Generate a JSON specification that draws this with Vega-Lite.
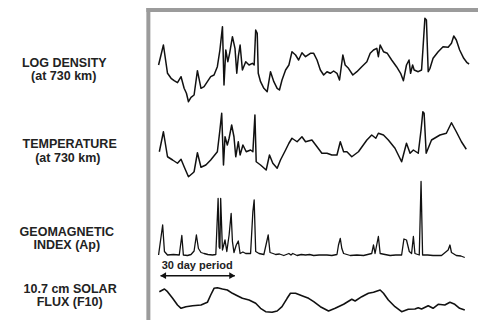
{
  "$schema": "https://vega.github.io/schema/vega-lite/v6.json",
  "width": 480,
  "height": 323,
  "autosize": {"type": "fit", "contains": "padding"},
  "padding": 0,
  "background": "white",
  "config": {"view": {"stroke": null}},
  "datasets": {
    "density": [
      {"day":-0.3,"log_density":-14.65},{"day":1.6,"log_density":-14.45},{"day":3.2,"log_density":-14.733},{"day":4.6,"log_density":-14.783},{"day":5.8,"log_density":-14.807},{"day":7.1,"log_density":-14.827},{"day":8.5,"log_density":-14.767},{"day":9.7,"log_density":-14.883},{"day":10.6,"log_density":-14.933},{"day":11.4,"log_density":-15.017},{"day":12.4,"log_density":-14.973},{"day":13.6,"log_density":-14.95},{"day":14.9,"log_density":-14.707},{"day":16.3,"log_density":-14.883},{"day":17.5,"log_density":-14.867},{"day":18.8,"log_density":-14.817},{"day":20.1,"log_density":-14.767},{"day":21.4,"log_density":-14.75},{"day":22.7,"log_density":-14.667},{"day":23.7,"log_density":-14.5},{"day":24.7,"log_density":-14.267},{"day":25.3,"log_density":-14.85},{"day":26.0,"log_density":-14.5},{"day":26.8,"log_density":-14.617},{"day":27.5,"log_density":-14.533},{"day":28.6,"log_density":-14.367},{"day":29.6,"log_density":-14.483},{"day":30.3,"log_density":-14.733},{"day":30.9,"log_density":-14.567},{"day":31.6,"log_density":-14.45},{"day":32.5,"log_density":-14.7},{"day":33.8,"log_density":-14.617},{"day":35.1,"log_density":-14.65},{"day":36.4,"log_density":-14.633},{"day":37.1,"log_density":-14.65},{"day":37.7,"log_density":-14.3},{"day":38.3,"log_density":-14.333},{"day":38.7,"log_density":-14.733},{"day":39.6,"log_density":-14.817},{"day":40.9,"log_density":-14.883},{"day":42.2,"log_density":-14.917},{"day":43.5,"log_density":-14.717},{"day":44.8,"log_density":-14.817},{"day":46.1,"log_density":-14.883},{"day":47.0,"log_density":-14.9},{"day":48.0,"log_density":-14.8},{"day":49.4,"log_density":-14.7},{"day":50.7,"log_density":-14.65},{"day":51.9,"log_density":-14.517},{"day":53.3,"log_density":-14.55},{"day":54.5,"log_density":-14.6},{"day":55.8,"log_density":-14.527},{"day":57.2,"log_density":-14.567},{"day":59.1,"log_density":-14.533},{"day":60.4,"log_density":-14.533},{"day":61.7,"log_density":-14.6},{"day":63.0,"log_density":-14.7},{"day":64.3,"log_density":-14.75},{"day":65.6,"log_density":-14.717},{"day":66.9,"log_density":-14.733},{"day":68.2,"log_density":-14.71},{"day":69.5,"log_density":-14.733},{"day":70.5,"log_density":-14.8},{"day":71.8,"log_density":-14.55},{"day":72.7,"log_density":-14.65},{"day":74.0,"log_density":-14.683},{"day":75.7,"log_density":-14.75},{"day":77.3,"log_density":-14.717},{"day":79.2,"log_density":-14.667},{"day":81.2,"log_density":-14.617},{"day":82.5,"log_density":-14.533},{"day":83.8,"log_density":-14.5},{"day":85.1,"log_density":-14.483},{"day":85.7,"log_density":-14.567},{"day":86.4,"log_density":-14.45},{"day":87.7,"log_density":-14.517},{"day":89.2,"log_density":-14.533},{"day":90.9,"log_density":-14.6},{"day":92.8,"log_density":-14.667},{"day":94.4,"log_density":-14.733},{"day":95.5,"log_density":-14.807},{"day":96.7,"log_density":-14.65},{"day":97.7,"log_density":-14.6},{"day":98.3,"log_density":-14.733},{"day":99.1,"log_density":-14.65},{"day":99.7,"log_density":-14.7},{"day":101.3,"log_density":-14.717},{"day":102.6,"log_density":-14.7},{"day":103.2,"log_density":-14.467},{"day":103.9,"log_density":-14.183},{"day":104.5,"log_density":-14.2},{"day":105.2,"log_density":-14.717},{"day":105.9,"log_density":-14.683},{"day":107.1,"log_density":-14.583},{"day":109.1,"log_density":-14.517},{"day":111.0,"log_density":-14.467},{"day":113.0,"log_density":-14.473},{"day":114.3,"log_density":-14.433},{"day":115.2,"log_density":-14.36},{"day":116.2,"log_density":-14.4},{"day":117.5,"log_density":-14.5},{"day":119.1,"log_density":-14.583},{"day":120.4,"log_density":-14.627},{"day":121.2,"log_density":-14.64}
    ],
    "temperature": [
      {"day":0.0,"temperature_K":1033},{"day":1.6,"temperature_K":1113},{"day":3.2,"temperature_K":1013},{"day":5.2,"temperature_K":1000},{"day":7.1,"temperature_K":987},{"day":8.5,"temperature_K":1003},{"day":9.7,"temperature_K":973},{"day":11.4,"temperature_K":933},{"day":13.0,"temperature_K":947},{"day":13.6,"temperature_K":953},{"day":14.9,"temperature_K":1029},{"day":16.3,"temperature_K":971},{"day":18.2,"temperature_K":980},{"day":20.1,"temperature_K":1000},{"day":22.7,"temperature_K":1033},{"day":23.7,"temperature_K":1120},{"day":24.4,"temperature_K":1187},{"day":25.1,"temperature_K":980},{"day":25.7,"temperature_K":1093},{"day":26.6,"temperature_K":1060},{"day":27.3,"temperature_K":1087},{"day":28.3,"temperature_K":1140},{"day":29.2,"temperature_K":1093},{"day":29.9,"temperature_K":1013},{"day":30.9,"temperature_K":1073},{"day":31.6,"temperature_K":1020},{"day":32.7,"temperature_K":1060},{"day":34.0,"temperature_K":1033},{"day":35.7,"temperature_K":1040},{"day":36.6,"temperature_K":1033},{"day":37.4,"temperature_K":1180},{"day":37.9,"temperature_K":993},{"day":39.6,"temperature_K":980},{"day":41.8,"temperature_K":960},{"day":43.1,"temperature_K":1020},{"day":44.4,"temperature_K":987},{"day":46.1,"temperature_K":967},{"day":47.4,"temperature_K":1000},{"day":49.4,"temperature_K":1040},{"day":50.7,"temperature_K":1067},{"day":51.9,"temperature_K":1087},{"day":53.9,"temperature_K":1073},{"day":55.8,"temperature_K":1093},{"day":57.2,"temperature_K":1073},{"day":59.7,"temperature_K":1080},{"day":61.7,"temperature_K":1053},{"day":63.6,"temperature_K":1027},{"day":65.6,"temperature_K":1027},{"day":67.5,"temperature_K":1020},{"day":69.5,"temperature_K":1020},{"day":70.8,"temperature_K":1073},{"day":72.1,"temperature_K":1033},{"day":73.4,"temperature_K":1033},{"day":75.3,"temperature_K":1013},{"day":77.9,"temperature_K":1033},{"day":81.2,"temperature_K":1080},{"day":83.1,"temperature_K":1100},{"day":84.7,"temperature_K":1087},{"day":85.7,"temperature_K":1107},{"day":87.7,"temperature_K":1100},{"day":89.6,"temperature_K":1080},{"day":92.2,"temperature_K":1047},{"day":94.8,"temperature_K":993},{"day":96.7,"temperature_K":1067},{"day":98.1,"temperature_K":1027},{"day":99.4,"temperature_K":1040},{"day":101.3,"temperature_K":1027},{"day":102.4,"temperature_K":1120},{"day":103.1,"temperature_K":1193},{"day":103.6,"temperature_K":1187},{"day":104.4,"temperature_K":1027},{"day":106.5,"temperature_K":1080},{"day":109.8,"temperature_K":1100},{"day":112.3,"temperature_K":1107},{"day":114.3,"temperature_K":1149},{"day":116.2,"temperature_K":1113},{"day":118.2,"temperature_K":1073},{"day":120.1,"temperature_K":1043}
    ],
    "ap": [
      {"day":-0.3,"Ap":6},{"day":1.3,"Ap":66},{"day":2.0,"Ap":13},{"day":3.2,"Ap":6},{"day":5.5,"Ap":7},{"day":7.8,"Ap":6},{"day":8.8,"Ap":45},{"day":9.4,"Ap":6},{"day":11.0,"Ap":5},{"day":12.4,"Ap":7},{"day":13.6,"Ap":14},{"day":14.5,"Ap":46},{"day":15.3,"Ap":19},{"day":16.3,"Ap":11},{"day":17.5,"Ap":9},{"day":19.0,"Ap":7},{"day":20.8,"Ap":6},{"day":22.1,"Ap":7},{"day":23.0,"Ap":119},{"day":23.4,"Ap":22},{"day":23.7,"Ap":19},{"day":24.0,"Ap":119},{"day":24.7,"Ap":16},{"day":25.7,"Ap":36},{"day":26.4,"Ap":13},{"day":27.3,"Ap":46},{"day":28.1,"Ap":89},{"day":28.6,"Ap":33},{"day":29.2,"Ap":11},{"day":30.1,"Ap":26},{"day":30.9,"Ap":34},{"day":31.6,"Ap":9},{"day":32.7,"Ap":12},{"day":33.8,"Ap":9},{"day":35.7,"Ap":9},{"day":36.6,"Ap":93},{"day":37.1,"Ap":116},{"day":37.7,"Ap":13},{"day":39.0,"Ap":9},{"day":40.9,"Ap":7},{"day":42.6,"Ap":46},{"day":43.3,"Ap":11},{"day":44.5,"Ap":9},{"day":45.5,"Ap":7},{"day":47.0,"Ap":8},{"day":48.7,"Ap":5},{"day":50.7,"Ap":9},{"day":51.5,"Ap":6},{"day":52.2,"Ap":9},{"day":53.9,"Ap":5},{"day":55.5,"Ap":7},{"day":57.2,"Ap":6},{"day":58.8,"Ap":7},{"day":60.4,"Ap":5},{"day":62.5,"Ap":6},{"day":65.6,"Ap":6},{"day":67.5,"Ap":5},{"day":69.5,"Ap":7},{"day":70.1,"Ap":26},{"day":70.8,"Ap":39},{"day":71.4,"Ap":19},{"day":72.1,"Ap":9},{"day":74.7,"Ap":5},{"day":77.3,"Ap":6},{"day":79.9,"Ap":5},{"day":83.1,"Ap":9},{"day":83.8,"Ap":26},{"day":84.4,"Ap":9},{"day":85.7,"Ap":43},{"day":86.4,"Ap":9},{"day":88.3,"Ap":7},{"day":90.3,"Ap":5},{"day":92.5,"Ap":6},{"day":94.8,"Ap":6},{"day":95.7,"Ap":38},{"day":96.7,"Ap":36},{"day":97.8,"Ap":13},{"day":98.7,"Ap":9},{"day":99.4,"Ap":43},{"day":100.0,"Ap":9},{"day":101.7,"Ap":6},{"day":102.4,"Ap":153},{"day":103.0,"Ap":6},{"day":105.0,"Ap":6},{"day":107.1,"Ap":5},{"day":110.4,"Ap":5},{"day":113.0,"Ap":16},{"day":113.7,"Ap":26},{"day":114.3,"Ap":11},{"day":116.2,"Ap":5},{"day":118.0,"Ap":4},{"day":119.5,"Ap":1}
    ],
    "f10": [
      {"day":0.0,"F10":108.3},{"day":2.0,"F10":111},{"day":3.2,"F10":108.3},{"day":5.2,"F10":101.7},{"day":7.1,"F10":95},{"day":8.5,"F10":91.7},{"day":10.4,"F10":93.3},{"day":13.0,"F10":94.3},{"day":16.3,"F10":95},{"day":18.8,"F10":97.7},{"day":20.1,"F10":105},{"day":21.4,"F10":111.7},{"day":22.7,"F10":112.3},{"day":24.7,"F10":111},{"day":26.6,"F10":110},{"day":28.6,"F10":106.7},{"day":30.5,"F10":104.3},{"day":32.5,"F10":101.7},{"day":35.1,"F10":100},{"day":37.7,"F10":96.7},{"day":39.6,"F10":91.7},{"day":41.6,"F10":88.3},{"day":44.1,"F10":87.7},{"day":46.1,"F10":89},{"day":48.0,"F10":93.3},{"day":50.0,"F10":101.7},{"day":51.3,"F10":106.7},{"day":53.3,"F10":106.7},{"day":55.8,"F10":104.3},{"day":58.4,"F10":101.7},{"day":60.4,"F10":98.3},{"day":63.0,"F10":93.3},{"day":66.2,"F10":89},{"day":68.8,"F10":91.7},{"day":72.1,"F10":95.7},{"day":75.3,"F10":100.7},{"day":76.6,"F10":99},{"day":79.2,"F10":103.3},{"day":81.8,"F10":106.7},{"day":83.8,"F10":107.7},{"day":86.4,"F10":110},{"day":87.7,"F10":106.7},{"day":89.6,"F10":100},{"day":92.2,"F10":93.3},{"day":94.8,"F10":88.3},{"day":97.4,"F10":90.7},{"day":100.0,"F10":91},{"day":101.3,"F10":92.3},{"day":102.6,"F10":91},{"day":105.2,"F10":94.3},{"day":107.1,"F10":91.7},{"day":109.1,"F10":95.7},{"day":111.7,"F10":95},{"day":113.7,"F10":97.7},{"day":115.6,"F10":95.7},{"day":117.5,"F10":91.7},{"day":119.5,"F10":90}
    ]
  },
  "resolve": {"scale": {"y": "independent"}},
  "layer": [
    {
      "layer": [
        {
          "data": {"name": "density"},
          "mark": {"type": "line", "color": "#111111", "strokeWidth": 1.5, "strokeJoin": "round"},
          "encoding": {
            "x": {"field": "day", "type": "quantitative", "axis": null, "scale": {"domain": [-62.34, 124.68], "nice": false, "zero": false}},
            "y": {"field": "log_density", "type": "quantitative", "axis": null, "scale": {"domain": [-17.23, -14], "nice": false, "zero": false}}
          }
        },
        {
          "data": {"values": [
            {"day": -37.2, "log_density": -14.633, "label": "LOG DENSITY"},
            {"day": -37.4, "log_density": -14.763, "label": "(at 730 km)"}
          ]},
          "mark": {"type": "text", "font": "Liberation Sans", "fontSize": 12.5, "fontWeight": "bold", "color": "#222222", "align": "center", "baseline": "middle"},
          "encoding": {
            "x": {"field": "day", "type": "quantitative", "axis": null, "scale": {"domain": [-62.34, 124.68], "nice": false, "zero": false}},
            "y": {"field": "log_density", "type": "quantitative", "axis": null, "scale": {"domain": [-17.23, -14], "nice": false, "zero": false}},
            "text": {"field": "label"}
          }
        }
      ]
    },
    {
      "layer": [
        {
          "data": {"name": "temperature"},
          "mark": {"type": "line", "color": "#111111", "strokeWidth": 1.5, "strokeJoin": "round"},
          "encoding": {
            "x": {"field": "day", "type": "quantitative", "axis": null, "scale": {"domain": [-62.34, 124.68], "nice": false, "zero": false}},
            "y": {"field": "temperature_K", "type": "quantitative", "axis": null, "scale": {"domain": [348, 1640], "nice": false, "zero": false}}
          }
        },
        {
          "data": {"values": [
            {"day": -35.1, "temperature_K": 1065, "label": "TEMPERATURE"},
            {"day": -35.8, "temperature_K": 1007, "label": "(at 730 km)"}
          ]},
          "mark": {"type": "text", "font": "Liberation Sans", "fontSize": 12.5, "fontWeight": "bold", "color": "#222222", "align": "center", "baseline": "middle"},
          "encoding": {
            "x": {"field": "day", "type": "quantitative", "axis": null, "scale": {"domain": [-62.34, 124.68], "nice": false, "zero": false}},
            "y": {"field": "temperature_K", "type": "quantitative", "axis": null, "scale": {"domain": [348, 1640], "nice": false, "zero": false}},
            "text": {"field": "label"}
          }
        }
      ]
    },
    {
      "layer": [
        {
          "data": {"name": "ap"},
          "mark": {"type": "line", "color": "#111111", "strokeWidth": 1.3, "strokeJoin": "round"},
          "encoding": {
            "x": {"field": "day", "type": "quantitative", "axis": null, "scale": {"domain": [-62.34, 124.68], "nice": false, "zero": false}},
            "y": {"field": "Ap", "type": "quantitative", "axis": null, "scale": {"domain": [-130, 516], "nice": false, "zero": false}}
          }
        },
        {
          "data": {"values": [
            {"day": -36.2, "Ap": 52.6, "label": "GEOMAGNETIC"},
            {"day": -36.2, "Ap": 26.6, "label": "INDEX (Ap)"}
          ]},
          "mark": {"type": "text", "font": "Liberation Sans", "fontSize": 12.5, "fontWeight": "bold", "color": "#222222", "align": "center", "baseline": "middle"},
          "encoding": {
            "x": {"field": "day", "type": "quantitative", "axis": null, "scale": {"domain": [-62.34, 124.68], "nice": false, "zero": false}},
            "y": {"field": "Ap", "type": "quantitative", "axis": null, "scale": {"domain": [-130, 516], "nice": false, "zero": false}},
            "text": {"field": "label"}
          }
        }
      ]
    },
    {
      "layer": [
        {
          "data": {"name": "f10"},
          "mark": {"type": "line", "color": "#111111", "strokeWidth": 1.6, "strokeJoin": "round"},
          "encoding": {
            "x": {"field": "day", "type": "quantitative", "axis": null, "scale": {"domain": [-62.34, 124.68], "nice": false, "zero": false}},
            "y": {"field": "F10", "type": "quantitative", "axis": null, "scale": {"domain": [77, 400], "nice": false, "zero": false}}
          }
        },
        {
          "data": {"values": [
            {"day": -34.9, "F10": 111.3, "label": "10.7 cm SOLAR"},
            {"day": -35.1, "F10": 97.7, "label": "FLUX (F10)"}
          ]},
          "mark": {"type": "text", "font": "Liberation Sans", "fontSize": 12.5, "fontWeight": "bold", "color": "#222222", "align": "center", "baseline": "middle"},
          "encoding": {
            "x": {"field": "day", "type": "quantitative", "axis": null, "scale": {"domain": [-62.34, 124.68], "nice": false, "zero": false}},
            "y": {"field": "F10", "type": "quantitative", "axis": null, "scale": {"domain": [77, 400], "nice": false, "zero": false}},
            "text": {"field": "label"}
          }
        },
        {
          "data": {"values": [{"day": 14.8, "F10": 134, "note": "30 day period"}]},
          "mark": {"type": "text", "font": "Liberation Sans", "fontSize": 11, "fontWeight": "bold", "color": "#222222", "align": "center", "baseline": "middle"},
          "encoding": {
            "x": {"field": "day", "type": "quantitative", "axis": null, "scale": {"domain": [-62.34, 124.68], "nice": false, "zero": false}},
            "y": {"field": "F10", "type": "quantitative", "axis": null, "scale": {"domain": [77, 400], "nice": false, "zero": false}},
            "text": {"field": "note"}
          }
        },
        {
          "data": {"values": [{"day": 0.5, "day_end": 29.5, "F10": 124.3}]},
          "mark": {"type": "rule", "color": "#111111", "strokeWidth": 1.5},
          "encoding": {
            "x": {"field": "day", "type": "quantitative", "axis": null, "scale": {"domain": [-62.34, 124.68], "nice": false, "zero": false}},
            "x2": {"field": "day_end"},
            "y": {"field": "F10", "type": "quantitative", "axis": null, "scale": {"domain": [77, 400], "nice": false, "zero": false}}
          }
        },
        {
          "data": {"values": [{"day": 1.5, "F10": 124.3, "end": "left"}, {"day": 28.5, "F10": 124.3, "end": "right"}]},
          "mark": {"type": "point", "filled": true, "color": "#111111", "size": 45, "opacity": 1},
          "encoding": {
            "x": {"field": "day", "type": "quantitative", "axis": null, "scale": {"domain": [-62.34, 124.68], "nice": false, "zero": false}},
            "y": {"field": "F10", "type": "quantitative", "axis": null, "scale": {"domain": [77, 400], "nice": false, "zero": false}},
            "shape": {"field": "end", "type": "nominal", "legend": null, "scale": {"domain": ["left", "right"], "range": ["triangle-left", "triangle-right"]}}
          }
        },
        {
          "data": {"values": [
            {"day": -4.29, "day_end": -4.29, "F10": 392, "F10_end": 80},
            {"day": -5.07, "day_end": 124.68, "F10": 390, "F10_end": 390}
          ]},
          "mark": {"type": "rule", "color": "#9b9b9b", "strokeWidth": 4, "strokeCap": "butt"},
          "encoding": {
            "x": {"field": "day", "type": "quantitative", "axis": null, "scale": {"domain": [-62.34, 124.68], "nice": false, "zero": false}},
            "x2": {"field": "day_end"},
            "y": {"field": "F10", "type": "quantitative", "axis": null, "scale": {"domain": [77, 400], "nice": false, "zero": false}},
            "y2": {"field": "F10_end"}
          }
        }
      ]
    }
  ]
}
